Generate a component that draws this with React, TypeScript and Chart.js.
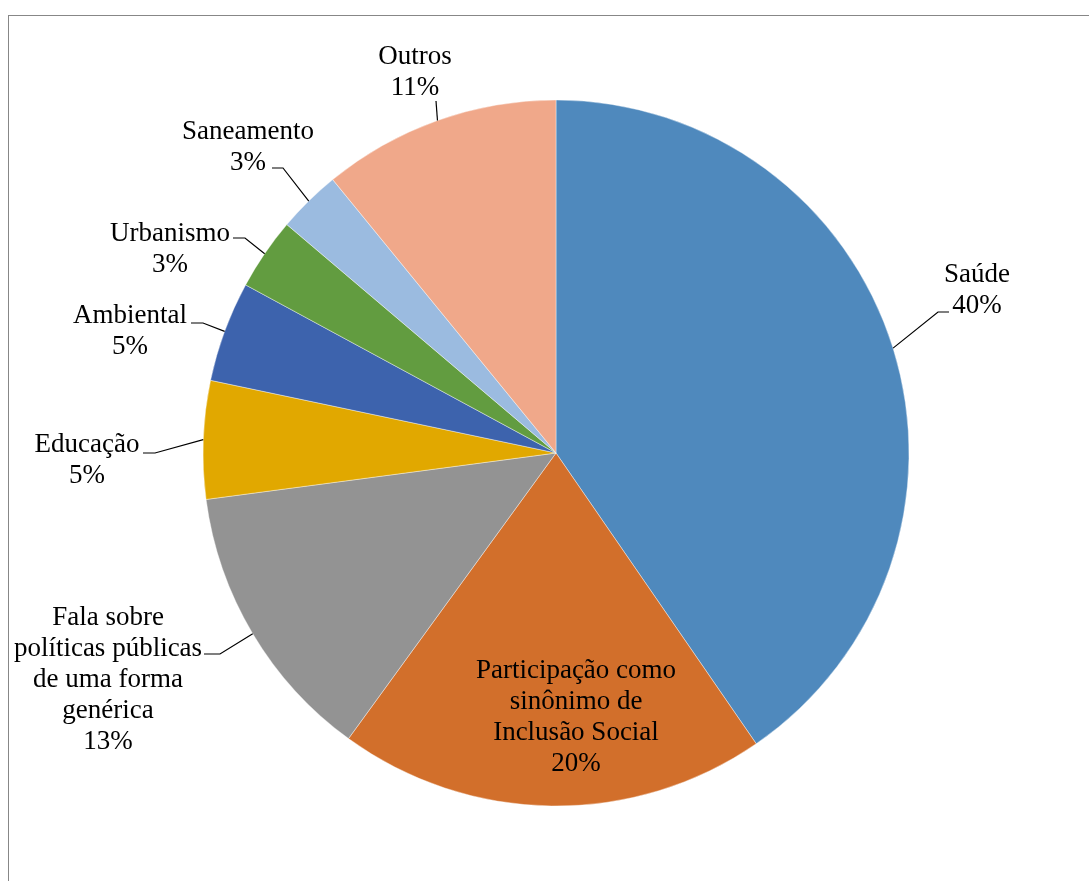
import React, { useEffect, useRef } from "react";
import { Chart, registerables } from "chart.js";

Chart.register(...registerables);

// ---- data ----
const categories: string[][] = [
  ["Saúde"],
  ["Participação como", "sinônimo de", "Inclusão Social"],
  ["Fala sobre", "políticas públicas", "de uma forma", "genérica"],
  ["Educação"],
  ["Ambiental"],
  ["Urbanismo"],
  ["Saneamento"],
  ["Outros"],
];
const values: number[] = [40.4, 19.6, 12.9, 5.4, 4.6, 3.3, 2.9, 10.9];
const colors: string[] = [
  "#4F89BD",
  "#D26F2B",
  "#939393",
  "#E1A800",
  "#3D63AD",
  "#629C40",
  "#9BBBE0",
  "#F0A88A",
];

// ---- label layout (offsets from pie centre, px) ----
// [textCenterX, firstBaselineY]
const labelPos: number[][] = [
  [421, -171],
  [20, 225],
  [-448, 172],
  [-469, -1],
  [-426, -130],
  [-386, -212],
  [-308, -314],
  [-141, -389],
];
// [startX, startY, elbowX, elbowY] or null
const leaderPos: (number[] | null)[] = [
  [393, -141, 382, -141],
  null,
  [-352, 201, -336, 201],
  [-413, 0, -401, 0],
  [-365, -130, -353, -130],
  [-323, -215, -311, -215],
  [-284, -285, -273, -285],
  [-120, -352, -120, -352],
];

const FONT = '27px "Liberation Serif"';
const LINE_H = 31;

const labelPlugin = {
  id: "pieLabels",
  afterDatasetsDraw(chart: any) {
    const ctx = chart.ctx;
    const meta = chart.getDatasetMeta(0);
    const total = values.reduce((a, b) => a + b, 0);
    ctx.save();
    meta.data.forEach((arc: any, i: number) => {
      const { x, y, startAngle, endAngle, outerRadius } = arc.getProps(
        ["x", "y", "startAngle", "endAngle", "outerRadius"],
        true
      );
      const mid = (startAngle + endAngle) / 2;
      const ex = x + Math.cos(mid) * outerRadius;
      const ey = y + Math.sin(mid) * outerRadius;
      const lp = leaderPos[i];
      if (lp) {
        ctx.beginPath();
        ctx.strokeStyle = "#000";
        ctx.lineWidth = 1.2;
        ctx.moveTo(x + lp[0], y + lp[1]);
        ctx.lineTo(x + lp[2], y + lp[3]);
        ctx.lineTo(ex, ey);
        ctx.stroke();
      }
      const pct = Math.round((values[i] / total) * 100) + "%";
      const lines = [...categories[i], pct];
      ctx.fillStyle = "#000";
      ctx.font = FONT;
      ctx.textAlign = "center";
      ctx.textBaseline = "alphabetic";
      const [tx, ty] = labelPos[i];
      lines.forEach((ln, k) => {
        ctx.fillText(ln, x + tx, y + ty + k * LINE_H);
      });
    });
    ctx.restore();
  },
};

export default function App() {
  const ref = useRef<HTMLCanvasElement | null>(null);
  useEffect(() => {
    let chart: Chart | null = null;
    let cancelled = false;
    const make = () => {
      if (cancelled || !ref.current) return;
      chart = new Chart(ref.current, {
        type: "pie",
        data: {
          labels: categories.map((c) => c.join(" ")),
          datasets: [
            {
              data: values,
              backgroundColor: colors,
              borderColor: "#ffffff",
              borderWidth: 0.4,
            },
          ],
        },
        options: {
          responsive: false,
          animation: false,
          radius: 353,
          layout: { padding: { left: 194, right: 180, top: 84, bottom: 75 } },
          plugins: {
            legend: { display: false },
            tooltip: { enabled: false },
          },
        } as any,
        plugins: [labelPlugin],
      });
    };
    const fonts: any = (document as any).fonts;
    if (fonts && fonts.load) {
      fonts.load(FONT, "Saúde").then(make, make);
    } else {
      make();
    }
    return () => {
      cancelled = true;
      if (chart) chart.destroy();
    };
  }, []);
  return (
    <div
      style={{
        position: "absolute",
        left: 8,
        top: 15,
        width: 1081,
        height: 866,
        boxSizing: "border-box",
        borderLeft: "1px solid #878787",
        borderTop: "1px solid #878787",
        background: "#fff",
      }}
    >
      <canvas ref={ref} width={1080} height={865} style={{ display: "block" }} />
    </div>
  );
}
